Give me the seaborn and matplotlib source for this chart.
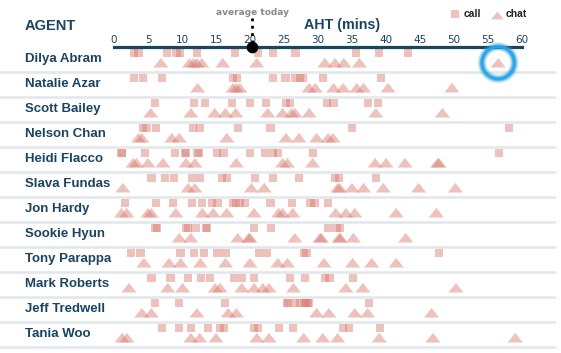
import matplotlib.pyplot as plt
import matplotlib.transforms as mtransforms
import pandas as pd
import seaborn as sns

agents = ['Dilya Abram', 'Natalie Azar', 'Scott Bailey', 'Nelson Chan', 'Heidi Flacco',
          'Slava Fundas', 'Jon Hardy', 'Sookie Hyun', 'Tony Parappa', 'Mark Roberts',
          'Jeff Tredwell', 'Tania Woo']

# handle times in minutes, one list per agent (same order as agents)
call_aht = [
    [2.9, 3.6, 7.8, 9.2, 9.7, 12.2, 17.8, 21.2, 23.4, 26.7, 35.6, 39.0, 43.2],
    [2.9, 4.3, 7.1, 17.5, 18.1, 23.4, 25.2, 26.6, 27.4, 27.8, 30.7, 39.3],
    [6.0, 11.8, 13.4, 17.4, 20.0, 22.4, 25.3, 25.9, 31.3, 32.3, 37.4, 38.8],
    [4.3, 4.8, 6.2, 11.6, 12.6, 18.2, 23.0, 35.0, 58.1],
    [1.1, 1.2, 4.6, 9.0, 10.4, 10.6, 12.3, 12.5, 15.1, 16.1, 20.0, 22.2, 23.4, 24.1, 29.3, 56.6],
    [5.5, 7.5, 8.8, 11.5, 12.6, 15.9, 16.6, 20.7, 23.4, 27.2, 32.5, 33.1, 38.5],
    [1.6, 6.2, 8.7, 11.5, 12.9, 14.4, 15.2, 17.5, 17.9, 18.5, 19.3, 23.0, 26.2, 28.9, 29.5, 31.5],
    [6.1, 6.3, 10.6, 10.9, 12.0, 13.5, 13.7, 20.6, 23.1, 31.5, 32.7, 33.2],
    [2.5, 3.9, 9.8, 11.8, 13.2, 15.2, 16.5, 21.3, 22.5, 27.9, 28.3, 47.8],
    [5.5, 8.3, 10.9, 12.8, 14.1, 17.6, 18.8, 20.6, 25.9, 28.1, 31.0, 31.7, 35.1],
    [6.0, 9.6, 16.3, 25.4, 25.6, 26.6, 27.4, 27.9, 28.2, 28.5, 28.7, 37.5],
    [7.1, 9.6, 11.3, 13.8, 15.6, 16.2, 20.6, 21.2, 24.3, 26.3, 33.7, 34.6, 39.1],
]
chat_aht = [
    [6.9, 11.1, 11.7, 12.2, 12.9, 16.0, 21.0, 31.0, 32.5, 33.8, 36.1, 56.5],
    [12.3, 17.5, 18.0, 18.5, 28.7, 29.6, 32.3, 33.7, 35.7, 36.7, 40.3, 49.7],
    [5.4, 11.3, 14.8, 16.4, 17.9, 22.6, 24.8, 26.1, 26.6, 28.7, 38.5, 48.3],
    [3.6, 4.1, 8.5, 9.6, 16.6, 25.3, 27.2, 29.8, 31.5, 32.2],
    [2.8, 3.3, 5.0, 7.2, 10.6, 11.9, 18.0, 24.8, 25.5, 29.2, 38.4, 40.0, 42.8, 47.6, 47.8],
    [1.3, 10.9, 11.9, 20.2, 22.1, 32.9, 33.2, 35.0, 36.7, 39.6, 44.8, 50.2],
    [1.1, 1.9, 5.0, 5.5, 9.1, 13.0, 14.6, 16.6, 20.6, 24.2, 24.8, 26.3, 32.6, 34.1, 35.4, 41.5, 47.4],
    [9.6, 11.3, 18.2, 19.8, 20.0, 26.6, 30.3, 30.5, 33.1, 33.3, 35.2, 42.9],
    [4.4, 8.1, 9.8, 12.7, 16.4, 20.0, 24.1, 25.5, 30.9, 35.1, 37.9, 41.5],
    [2.2, 7.9, 10.1, 14.9, 15.6, 18.8, 20.6, 21.9, 22.8, 26.4, 34.1, 36.6, 50.3],
    [4.1, 5.5, 12.2, 16.8, 18.0, 29.8, 31.6, 35.4, 37.3, 46.7],
    [1.2, 1.9, 11.3, 12.6, 15.0, 21.0, 22.8, 27.9, 30.7, 32.9, 39.0, 46.9, 59.0],
]
avg_today = 20.3
highlight = ('Dilya Abram', 56.5)
x_ticks = list(range(0, 61, 5))

navy = '#1b4461'
mark_color = '#d9786d'

rows = []
for i, name in enumerate(agents):
    for v in call_aht[i]:
        rows.append((name, 'call', v))
    for v in chat_aht[i]:
        rows.append((name, 'chat', v))
df = pd.DataFrame(rows, columns=['agent', 'kind', 'aht'])
row_of = {a: i for i, a in enumerate(agents)}
offset = {'call': 0.25, 'chat': 0.64}
df['y'] = df['agent'].map(row_of) + df['kind'].map(offset)

sns.set_style('white')
plt.rcParams['font.family'] = ['DejaVu Sans']

fig = plt.figure(figsize=(5.61, 3.53), dpi=100)
ax = fig.add_axes([114 / 561, 6.3 / 353, 408 / 561, 300 / 353])

tri = [(-1, -0.64), (1, -0.64), (0, 0.64)]
sns.scatterplot(data=df, x='aht', y='y', style='kind', markers={'call': 's', 'chat': tri},
                size='kind', sizes={'call': 36, 'chat': 118}, color=mark_color, alpha=0.45,
                linewidth=0, legend=False, ax=ax, clip_on=False)

ax.set_xlim(0, 60)
ax.set_ylim(12, 0)
ax.xaxis.tick_top()
ax.set_xticks(x_ticks)
ax.set_yticks([])
ax.set_xlabel('')
ax.set_ylabel('')
ax.tick_params(axis='x', length=0, pad=1.5, labelsize=7.5, colors=navy)
for s in ['left', 'right', 'bottom']:
    ax.spines[s].set_visible(False)
ax.spines['top'].set_color('#18465f')
ax.spines['top'].set_linewidth(2.3)

# names + row separators, x in figure coords
blend = mtransforms.blended_transform_factory(fig.transFigure, ax.transData)
for i, name in enumerate(agents):
    ax.text(25 / 561, i + 0.5, name, transform=blend, ha='left', va='center',
            fontsize=9.5, fontweight='bold', color=navy, family='Liberation Sans')
    ax.plot([0, 555 / 561], [i + 1, i + 1], transform=blend, color='#e2e7eb',
            lw=1.8, clip_on=False, zorder=0)

fig.text(25 / 561, 1 - 26 / 353, 'AGENT', ha='left', va='center', fontsize=10.5,
         fontweight='bold', color=navy, family='Liberation Sans')
fig.text(342 / 561, 1 - 25 / 353, 'AHT (mins)', ha='center', va='center', fontsize=10.3,
         fontweight='bold', color=navy, family='Liberation Sans')

# average marker
ax.plot([avg_today, avg_today], [-1.15, -0.1], color='black', ls=':', lw=2, clip_on=False)
ax.scatter([avg_today], [0], s=55, color='black', zorder=6, clip_on=False)
ax.text(avg_today, -1.36, 'average today', ha='center', va='center', fontsize=6.5,
        color='#8a8a8a', fontweight='bold')

# legend
ax.scatter([50.2], [-1.31], marker='s', s=33, color=mark_color, alpha=0.45, lw=0, clip_on=False)
ax.text(51.4, -1.31, 'call', ha='left', va='center', fontsize=7.5, fontweight='bold',
        color='#222222', family='Liberation Sans')
ax.scatter([56.3], [-1.27], marker=tri, s=80, color=mark_color, alpha=0.45, lw=0, clip_on=False)
ax.text(57.6, -1.31, 'chat', ha='left', va='center', fontsize=7.5, fontweight='bold',
        color='#222222', family='Liberation Sans')

# glowing highlight circle
hy = row_of[highlight[0]] + offset['chat']
for lw, a in [(6.5, 0.15), (5, 0.3), (3.2, 0.55), (2, 0.9)]:
    ax.scatter([highlight[1]], [hy], s=540, facecolors='none', edgecolors='#2aa4e4',
               linewidths=lw, alpha=a, zorder=7, clip_on=False)

fig.savefig('out.png', dpi=100, facecolor='white')
